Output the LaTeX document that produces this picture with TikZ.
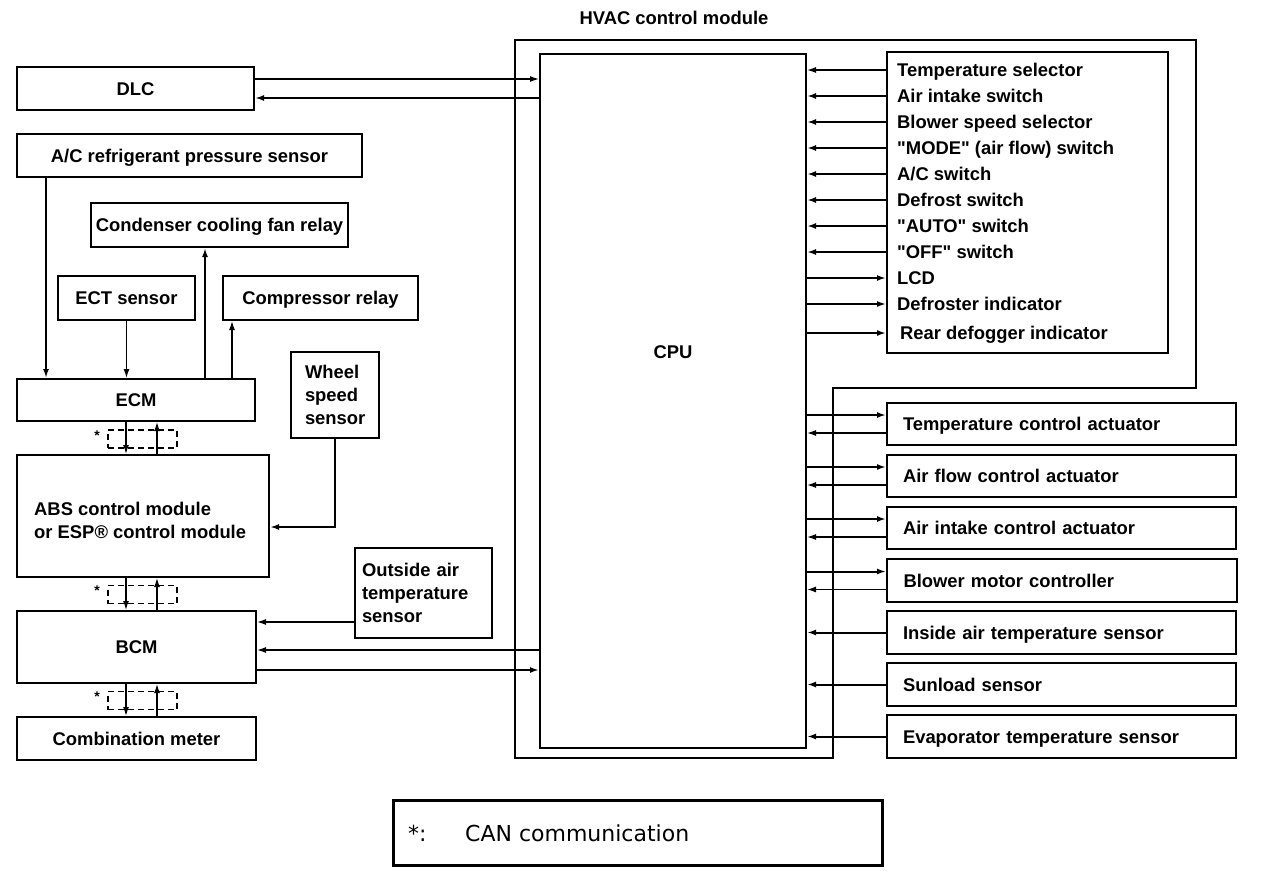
\documentclass[tikz,border=0pt]{standalone}
\usepackage{fontspec}
\setmainfont{Liberation Sans}[Ligatures=TeXOff]
\newfontfamily\legfont{DejaVu Sans}
\usetikzlibrary{arrows.meta,calc}
\begin{document}
\begin{tikzpicture}[x=1pt,y=-1pt,
  every node/.style={font=\bfseries\fontsize{18.4}{23}\selectfont, inner sep=0pt},
  one/.style={text height=13pt, text depth=0pt},
  box/.style={draw, line width=2pt, align=center, one},
  lbox/.style={draw, line width=2pt, align=left},
  rbox/.style={draw, line width=2pt, align=left, text width=317pt, inner xsep=16pt, minimum height=42pt, one},
  canbox/.style={draw, line width=1.5pt, dash pattern=on 6pt off 4pt, minimum width=69pt, minimum height=18pt},
  star/.style={font=\bfseries\fontsize{14}{14}\selectfont},
  item/.style={anchor=west, one},
  con/.style={line width=2pt, -{Latex[length=9pt,width=6pt]}},
  thin/.style={line width=1.3pt}
]
\useasboundingbox (0,0) rectangle (1264,876);

% HVAC control module outline
\draw[line width=2pt] (515,40) -- (1196,40) -- (1196,388) -- (833,388) -- (833,758) -- (515,758) -- cycle;
\node[one] (title) at (674,18) {HVAC control module};

% CPU
\node[draw, line width=2pt, minimum width=266pt, minimum height=694pt] (cpu) at (673,401) {};
\node[one] (cputxt) at (673,352) {CPU};

% switch panel
\node[draw, line width=2pt, minimum width=281pt, minimum height=301pt] (sw) at (1027.5,202.5) {};
\node[item] (s1) at (897,70) {Temperature selector};
\node[item] (s2) at (897,96) {Air intake switch};
\node[item] (s3) at (897,122) {Blower speed selector};
\node[item] (s4) at (897,148) {"MODE" (air flow) switch};
\node[item] (s5) at (897,174) {A/C switch};
\node[item] (s6) at (897,200) {Defrost switch};
\node[item] (s7) at (897,226) {"AUTO" switch};
\node[item] (s8) at (897,252) {"OFF" switch};
\node[item] (s9) at (897,278) {LCD};
\node[item] (s10) at (897,304) {Defroster indicator};
\node[item] (s11) at (900,333) {Rear defogger indicator};

\draw[con,thin] (s1.west -| sw.west) -- (s1.west -| cpu.east);
\foreach \i in {2,...,8}{
  \draw[con] (s\i.west -| sw.west) -- (s\i.west -| cpu.east);
}
\foreach \i in {9,10,11}{
  \draw[con] (s\i.west -| cpu.east) -- (s\i.west -| sw.west);
}

% right boxes
\node[rbox] (tca) at (1061.5,424) {Temperature control actuator};
\node[rbox] (afa) at (1061.5,476) {Air flow control actuator};
\node[rbox] (aia) at (1061.5,528) {Air intake control actuator};
\node[rbox, inner xsep=16.5pt, minimum height=43pt] (bmc) at (1062,580.5) {Blower motor controller};
\node[rbox, minimum height=43pt] (iat) at (1061.5,632.5) {Inside air temperature sensor};
\node[rbox, minimum height=43pt] (sun) at (1061.5,684.5) {Sunload sensor};
\node[rbox, minimum height=43pt] (evp) at (1061.5,736.5) {Evaporator temperature sensor};

\foreach \n in {tca,afa,aia,bmc}{
  \coordinate (\n O) at ($(\n.west)+(0,-9)$);
  \coordinate (\n I) at ($(\n.west)+(0,9)$);
  \draw[con] (cpu.east |- \n O) -- (\n O);
  \draw[con,thin] (\n I) -- (cpu.east |- \n I);
}
\foreach \n in {iat,sun,evp}{
  \draw[con] (\n.west) -- (cpu.east |- \n.west);
}

% left side boxes
\node[box, minimum width=237pt, minimum height=43pt] (dlc) at (135.5,88.5) {DLC};
\node[box, minimum width=345pt, minimum height=43pt] (acp) at (189.5,155.5) {A/C refrigerant pressure sensor};
\node[box, minimum width=257pt, minimum height=44pt] (cond) at (219.5,225) {Condenser cooling fan relay};
\node[box, minimum width=137pt, minimum height=44pt] (ect) at (126.5,298) {ECT sensor};
\node[box, minimum width=195pt, minimum height=44pt] (comp) at (320.5,298) {Compressor relay};
\node[lbox, text width=60pt, inner xsep=14pt, minimum height=86pt] (wss) at (335,395) {Wheel\\speed\\sensor};
\node[box, minimum width=238pt, minimum height=42pt] (ecm) at (136,400) {ECM};
\node[draw, line width=2pt, minimum width=252pt, minimum height=122pt] (abs) at (143,516) {};
\node[anchor=west, align=left] (abstxt) at (34,520) {ABS control module\\or ESP® control module};
\node[lbox, text width=123pt, inner xsep=7pt, minimum height=90pt] (oat) at (423.5,593) {Outside air\\temperature\\sensor};
\node[box, minimum width=239pt, minimum height=72pt] (bcm) at (136.5,647) {BCM};
\node[box, minimum width=239pt, minimum height=43pt] (cm) at (136.5,738.5) {Combination meter};

% DLC <-> CPU
\coordinate (dO) at ($(dlc.east)+(0,-9.5)$);
\coordinate (dI) at ($(dlc.east)+(0,9.5)$);
\draw[con,thin] (dO) -- (cpu.west |- dO);
\draw[con] (cpu.west |- dI) -- (dI);

% ECM connections
\coordinate (acx) at ($(acp.south west)+(30,0)$);
\draw[con] (acx) -- (acx |- ecm.north);
\draw[con,thin] (ect.south) -- (ect.south |- ecm.north);
\coordinate (e2c) at ($(ecm.north west)+(189,0)$);
\draw[con] (e2c) -- (e2c |- cond.south);
\coordinate (e2p) at ($(ecm.north west)+(216,0)$);
\draw[con,thin] (e2p) -- (e2p |- comp.south);

% wheel speed sensor
\coordinate (wab) at ($(abs.east)+(0,11)$);
\draw[con] (wss.south) |- (wab);

% outside air -> BCM
\coordinate (ob) at ($(bcm.east)+(0,-25)$);
\draw[con,thin] (oat.west |- ob) -- (ob);

% CPU <-> BCM
\coordinate (bI) at ($(bcm.east)+(0,3)$);
\coordinate (bO) at ($(bcm.east)+(0,23)$);
\draw[con,thin] (cpu.west |- bI) -- (bI);
\draw[con] (bO) -- (cpu.west |- bO);

% CAN links
\node[canbox] (can1) at (142.5,439) {};
\node[canbox] (can2) at (142.5,594.5) {};
\node[canbox] (can3) at (142.5,700.5) {};
\node[star] (st1) at (97,436) {*};
\node[star] (st2) at (97,591) {*};
\node[star] (st3) at (97,697) {*};

\coordinate (L1) at ($(ecm.south west)+(110,0)$);
\coordinate (R1) at ($(ecm.south west)+(141,0)$);
\draw[con,thin] (L1) -- (L1 |- abs.north);
\draw[con,thin] (R1 |- abs.north) -- (R1);
\coordinate (L2) at ($(abs.south west)+(110,0)$);
\coordinate (R2) at ($(abs.south west)+(141,0)$);
\draw[con,thin] (L2) -- (L2 |- bcm.north);
\draw[con,thin] (R2 |- bcm.north) -- (R2);
\coordinate (L3) at ($(bcm.south west)+(110,0)$);
\coordinate (R3) at ($(bcm.south west)+(141,0)$);
\draw[con,thin] (L3) -- (L3 |- cm.north);
\draw[con,thin] (R3 |- cm.north) -- (R3);

% legend
\node[draw, line width=3pt, minimum width=489pt, minimum height=65pt] (leg) at (637.5,832.5) {};
\node[anchor=west, font=\legfont\fontsize{22}{26}\selectfont] (legstar) at (408,833) {*:};
\node[anchor=west, font=\legfont\fontsize{22}{26}\selectfont] (legtxt) at (465,833) {CAN communication};
\end{tikzpicture}
\end{document}
